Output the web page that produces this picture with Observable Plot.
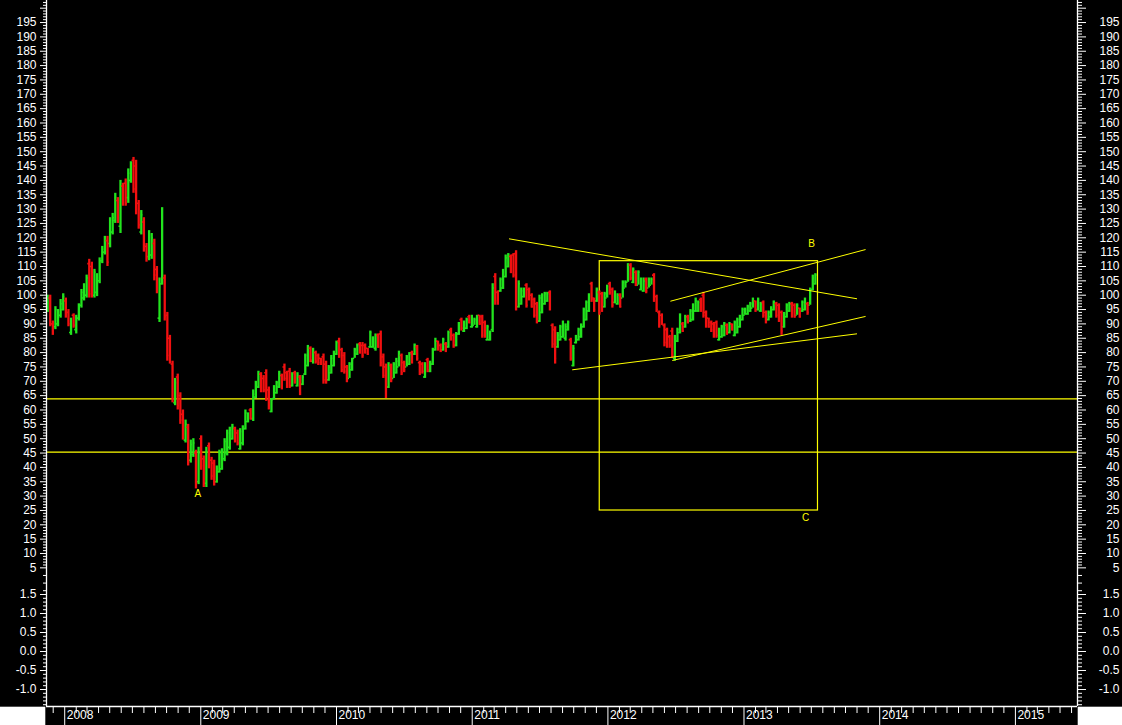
<!DOCTYPE html>
<html>
<head>
<meta charset="utf-8">
<script src="https://cdn.jsdelivr.net/npm/d3@7"></script>
<script src="https://cdn.jsdelivr.net/npm/@observablehq/plot@0.6"></script>
<style>
  html, body { margin: 0; padding: 0; background: #ffffff; }
  #chart svg { display: block; }
</style>
</head>
<body>
<div id="chart"></div>
<script>
// ---- data: weekly OHLC bars, first bar week ending 2007-11-16 ----
const firstWeek = "2007-11-16";
const opens = [
95,99,90,89,90,93,95,98,94,87,
93,88,92,96.5,99,100,111,110,100,101,
105,112,115,119,118,122,126,133,124,138,
139,134,140,147,145,132,122,125.5,117,113.5,
114,118,109,92,104,106,93,85,76,62.5,
71.5,65,58.5,49.5,54,42.5,44.5,45,35,50,
43,34.5,47.5,42.5,41.5,35,38.5,39.5,43,45,
47,50,53.5,52,46.5,48.5,53.5,56,60,57,
64.5,68,72.5,71,73,67,59.5,64,66,68,
72,75,73,73.5,68.5,73,68.5,71.5,69,72.5,
75.5,81.5,77,80,79,78,78.5,76,70.5,73,
75.5,79.5,84,81,79,75,71,74,78,79.5,
83,82.5,82.5,81.5,82,82,81.5,86,86.5,78.5,
75,68,75.5,71,73,75,79,76.5,75,76,
80,79.5,82,76.5,76,71.5,77.5,73.5,76,81,
84,82.5,81,83,82,88,86,82.5,86.5,91.5,
87.5,88.5,92.5,89,89.5,89,93,92.5,90.5,84.5,
84.5,88,106.5,101,101.5,102.5,106.5,110,113.5,114,
114.5,96,97,99.5,103.5,102,100,98.5,97,91,
94,97,98,101,89.5,88,82,84.5,85.5,85,
88,84.5,75.5,83.5,84.5,85.5,89,91.5,94.5,104,
99,98,101,100.5,96,99,104,102,97.5,97,
100,99,102.5,104.5,110.5,104.5,108,103.5,102,101.5,
105.5,102.5,103.5,107,99.5,94,93,89.5,88,85.5,
87.5,78,84,87,90,89,92.5,91,91.5,94.5,
94.5,98.5,100,94,92,90.5,90,90.5,84.5,85.5,
86,89.5,87,90,86,87,89,91.5,93,93.5,
94.5,95.5,98,95,94.5,97.5,94,91.5,92.5,95,
97,96.5,94,89,92.5,94.5,97,96.5,93,95.5,
94.5,95,97,96.5,102,104
];
const highs = [
100,100,91,96,95,98.5,100.5,99,95,92,
93.5,93,97,102,104,107,112.5,111.5,109,107.5,
113,117,120.5,120.5,127,128.5,135.5,134,140,139,
140.5,144,146.5,148,147,133,129.5,127,118,122.5,
121.5,119.5,110,106,130.5,107,94,86,77,71,
72.5,66,60,56.5,55,49.5,50,46,47,51,
44,47,48.5,43.5,42.5,40.5,46,46.5,50,53,
54,55,54,53,53.5,54.5,60,59,60.5,67,
70,73.5,73,72,74,68,64,68.5,70,73.5,
72.5,76,73.5,74.5,73,73.5,73,72,72,79.5,
82.5,82,81.5,80.5,79.5,78,79.5,77,75.5,79,
80.5,84,85,81.5,80,75.5,76.5,78,81.5,83,
83.5,83.5,83,81.5,87.5,85.5,86.5,86.5,87.5,79.5,
76,76.5,76,76.5,78,80.5,79.5,77,79,80,
80.5,83,82.5,77,76.5,76.5,78,77,81.5,85,
84,83,85,83.5,87.5,88.5,86.5,87,90.5,92,
91,92,93,93,92,93,93,93,91,89.5,
87.5,104,107.5,101.5,106,109,114,114.5,114,114.5,
115.5,105,102.5,102.5,104,102.5,100.5,99,97.5,100,
100.5,101,101,101.5,90,89,87,89.5,91,90,
91,85,82.5,86,88.5,90,95.5,98,100.5,104.5,
99,102.5,101.5,101,101,103.5,104.5,102.5,101.5,100.5,
100.5,105,105,111,111,109.5,108.5,108.5,106,106,
106,106,106,107.5,100,94.5,93.5,90,88.5,86,
88.5,86,88.5,93.5,90.5,93,93,95,97,99,
98,99,101,94.5,92,91,90.5,91,88.5,89.5,
90.5,90,90.5,90,91,92,93,95.5,95.5,96.5,
97.5,99,98,99,97.5,98,94.5,94.5,96,98,
97.5,97,94.5,94,97,97.5,97.5,97,97,95.5,
98,99,97.5,102.5,107,107.5
];
const lows = [
94,89,86,88,89,92,94.5,92,89,86,
88.5,86.5,91,95.5,98,99,99,99,99,99.5,
104,111,114,110,116.5,121,125,125,121.5,131,
131,132,139,135.5,128,123,121,115,111.5,112,
112.5,105,100.5,90.5,103.5,91,77,76,62.5,61.5,
60,55,49.5,48.5,40.5,41.5,43.5,32.5,34,39,
33,33,39.5,35.5,33.5,34.5,38,39,42,44,
46,49.5,48.5,47.5,46,47.5,53,55.5,56.5,56,
64,67.5,66,66,63,60,59,63.5,65.5,67.5,
67,70,67.5,67.5,68,69,68,65,68.5,72,
75,76.5,76,76,75.5,75.5,69,69,70,72.5,
75,79,78,73,72.5,69.5,71,73.5,78,79,
79.5,78,79.5,79,81.5,81.5,80.5,81.5,75,71,
64,67.5,69.5,71,72.5,75,72,73,75,75.5,
76,79,77,72,72.5,71,73,73,75.5,80.5,
80.5,80,80.5,80,81.5,84,81.5,82,86,87.5,
87,88,90,88.5,89.5,88.5,89.5,85,85,84,
84,87,96.5,96.5,101,102,106,109.5,107.5,106,
94.5,95.5,96.5,99,95.5,98,95.5,92,90,90.5,
93.5,96.5,97.5,94.5,81.5,76,81.5,84,85,84,
87.5,77,75,83,84,85,88.5,91,94,97.5,
94,97.5,93,94,95.5,99,100,95.5,97,96.5,
95.5,99,102.5,104.5,105,104,103,103.5,101.5,101,
100.5,102.5,103.5,97.5,94,88.5,89.5,82,81.5,81.5,
78,77,83.5,86.5,87,88.5,90,90.5,91,94,
94,94,92,88.5,88.5,87,85,85,84,85,
85.5,86,86.5,87.5,85.5,86.5,88.5,91,93,93,
94,95.5,94,94.5,94,92,90,91,92,94.5,
92,90.5,86,88.5,92,94,92,92,93,92,
94,94.5,93,96.5,101.5,103.5
];
const closes = [
99,90,87,95,93,97,99.5,93,90,91,
89.5,92,96,101,103,106,100.5,101,108,106,
112,116,119.5,111.5,126,127,134,126.5,138,132.5,
132,142.5,145.5,137,130,124.5,128,116.5,113,121,
120,107,102,104,107,92.5,79,77.5,64,69.5,
61.5,56.5,51,55,42.5,48,48.5,34.5,45,40.5,
34.5,45.5,41,37,35,39.5,45,45.5,49,52,
53,54,49.5,48.5,52.5,53.5,59,58,57,65.5,
69,72.5,67,67,64.5,61,63.5,67.5,69.5,72.5,
68,71,68.5,68.5,72.5,70,72,66,71.5,79,
81.5,77.5,80.5,77,76.5,76,70.5,70,75,78,
80,83.5,79,74,73.5,70.5,76,77.5,81,82.5,
80,79,80,79.5,87,85,86,82,76.5,72,
66.5,75.5,70.5,76,77,80,73,74,78.5,79.5,
77,82.5,78,73,73.5,76,74,76.5,81,84,
81.5,80.5,84.5,81,87,85,82.5,86.5,90,88.5,
90.5,91.5,90.5,92.5,91.5,92.5,90,86,86,89,
87,102.5,98,97.5,105.5,108,113,114,108.5,107,
96,104,101.5,102,96.5,99,96,93,91,99,
100,100.5,100.5,95.5,83,78,86,89,90,89,
90.5,78,81.5,85.5,88,89.5,95,97.5,100,98.5,
95,102,94,95,100.5,103,101,96.5,101,100,
96,104.5,104.5,110.5,106,109,104,108,105.5,105,
101.5,105.5,105.5,98.5,95,89.5,90,83.5,82.5,82.5,
79,85,88,93,87.5,92.5,90.5,94.5,96.5,98,
97.5,95,93,89.5,89,88,86,86,88,89,
90,87,90,88,90.5,91.5,92.5,95,95,96,
97,98.5,95,98.5,97,93,91,94,95.5,97.5,
93,91.5,87.5,93.5,96.5,97,93,92.5,96.5,92.5,
97.5,98.5,94,102,106,107
];

// horizontal support levels
const hLevels = [63.9, 45.3];
// trend lines
const trendStartDates = ["2011-04-10", "2011-09-27", "2012-06-17", "2012-06-22"];
const trendStartPrices = [119.65, 74.0, 97.9, 77.25];
const trendEndDates = ["2013-11-01", "2013-11-01", "2013-11-24", "2013-11-24"];
const trendEndPrices = [98.75, 86.55, 115.9, 92.6];
// box
const boxDates = ["2011-12-10", "2013-07-19"];
const boxPrices = [24.98, 111.85];
// point labels
const labelTexts = ["A", "B", "C"];
const labelDates = ["2008-12-24", "2013-07-02", "2013-06-16"];
const labelPrices = [30.9, 117.8, 22.6];
// axis tick labels
const yearLabels = ["2008", "2009", "2010", "2011", "2012", "2013", "2014", "2015"];
const upperTicks = d3.range(5, 205, 5);
const lowerTicks = [1.5, 1.0, 0.5, 0.0, -0.5, -1.0];

// ---- build ----
const GREEN = "#22e41e", RED = "#f21010", YELLOW = "#ffff00";
const n = Math.min(opens.length, highs.length, lows.length, closes.length);
const start = new Date(firstWeek + "T00:00:00Z");
const bars = d3.range(n).map(i => ({
  date: d3.utcWeek.offset(start, i),
  open: opens[i], high: highs[i], low: lows[i], close: closes[i]
}));
const upBars = bars.filter(d => d.close >= d.open);
const downBars = bars.filter(d => d.close < d.open);
const pd = s => new Date(s + "T00:00:00Z");

const trends = trendStartDates.map((s, i) => ({
  x1: pd(s), y1: trendStartPrices[i], x2: pd(trendEndDates[i]), y2: trendEndPrices[i]
}));
const box = [{x1: pd(boxDates[0]), x2: pd(boxDates[1]), y1: boxPrices[0], y2: boxPrices[1]}];
const labels = labelTexts.map((t, i) => ({text: t, date: pd(labelDates[i]), price: labelPrices[i]}));
const years = yearLabels.map(y => ({date: pd(y + "-01-01"), label: y}));
const yearDates = years.map(d => d.date);
const monthDates = d3.utcMonth.range(pd("2007-12-01"), pd("2015-07-01")).filter(d => d.getUTCMonth() !== 0);

const majorTicks = upperTicks.concat(lowerTicks);
const minorTicks = d3.range(6, 203).filter(v => v % 5 !== 0)
  .concat([2, 3, 4])
  .concat(d3.range(-14, 16).map(v => v / 10).filter(v => Math.abs(v * 2 - Math.round(v * 2)) > 1e-6));
const fmt = v => v >= 5 ? (v === 200 ? "" : String(v)) : v.toFixed(1);
const blank = () => "";

const xDomain = [pd("2007-11-13"), pd("2015-06-17")];
const W = 1122, H = 725;

const plot = Plot.plot({
  width: W, height: H,
  marginLeft: 46, marginRight: 45, marginTop: 0, marginBottom: 19,
  style: {background: "#000000", color: "#ffffff", fontFamily: "'Liberation Sans', Arial, sans-serif", fontSize: "12px"},
  x: {type: "utc", domain: xDomain, axis: null},
  y: {type: "linear", domain: [-1.447, 1.5, 5, 202.68], range: [706, 594, 567.35, 0], axis: null},
  marks: [
    // horizontal levels
    Plot.ruleY(hLevels, {stroke: YELLOW, strokeWidth: 1.2}),
    // box
    Plot.rect(box, {x1: "x1", x2: "x2", y1: "y1", y2: "y2", fill: "none", stroke: YELLOW, strokeWidth: 1.2}),
    // OHLC bars
    Plot.ruleX(upBars, {x: "date", y1: "low", y2: "high", stroke: GREEN, strokeWidth: 2.3}),
    Plot.ruleY(upBars, {y: "open", x1: d => d3.utcDay.offset(d.date, -4), x2: "date", stroke: GREEN, strokeWidth: 1.6}),
    Plot.ruleY(upBars, {y: "close", x1: "date", x2: d => d3.utcDay.offset(d.date, 4), stroke: GREEN, strokeWidth: 1.6}),
    Plot.ruleX(downBars, {x: "date", y1: "low", y2: "high", stroke: RED, strokeWidth: 2.3}),
    Plot.ruleY(downBars, {y: "open", x1: d => d3.utcDay.offset(d.date, -4), x2: "date", stroke: RED, strokeWidth: 1.6}),
    Plot.ruleY(downBars, {y: "close", x1: "date", x2: d => d3.utcDay.offset(d.date, 4), stroke: RED, strokeWidth: 1.6}),
    // trend lines
    Plot.link(trends, {x1: "x1", y1: "y1", x2: "x2", y2: "y2", stroke: YELLOW, strokeWidth: 1}),
    // labels
    Plot.text(labels, {x: "date", y: "price", text: "text", fill: YELLOW, fontSize: 10}),
    // y axes
    Plot.axisY(majorTicks, {anchor: "left", tickSize: 6, tickPadding: 4, tickFormat: fmt, fontSize: 12, color: "#ffffff"}),
    Plot.axisY(minorTicks, {anchor: "left", tickSize: 3, tickFormat: blank, color: "#ffffff"}),
    Plot.axisY(majorTicks, {anchor: "right", tickSize: 8, tickPadding: 34, textAnchor: "end", tickFormat: fmt, fontSize: 12, color: "#ffffff"}),
    Plot.axisY(minorTicks, {anchor: "right", tickSize: 4, tickFormat: blank, color: "#ffffff"}),
    // x axis
    Plot.axisX(monthDates, {anchor: "bottom", tickSize: 7, tickFormat: blank, color: "#ffffff"}),
    Plot.axisX(yearDates, {anchor: "bottom", tickSize: 19, tickFormat: blank, color: "#ffffff"}),
    Plot.text(years, {x: "date", text: "label", frameAnchor: "bottom", dy: 12, dx: 2, textAnchor: "start", fill: "#ffffff", fontSize: 12}),
    // axis lines
    Plot.ruleX(xDomain, {stroke: "#ffffff", strokeWidth: 1.3}),
    Plot.ruleY([-1.447], {stroke: "#ffffff", strokeWidth: 1.3})
  ]
});

// white corners under the side axes
const svg = d3.select(plot);
const xr = plot.scale("x").range;
const y0 = plot.scale("y").range[0];
svg.append("rect").attr("x", 0).attr("y", y0 + 0.7).attr("width", xr[0] - 0.7).attr("height", H - y0).attr("fill", "#ffffff");
svg.append("rect").attr("x", xr[1] + 0.7).attr("y", y0 + 0.7).attr("width", W - xr[1]).attr("height", H - y0).attr("fill", "#ffffff");

document.getElementById("chart").appendChild(plot);
</script>
</body>
</html>
